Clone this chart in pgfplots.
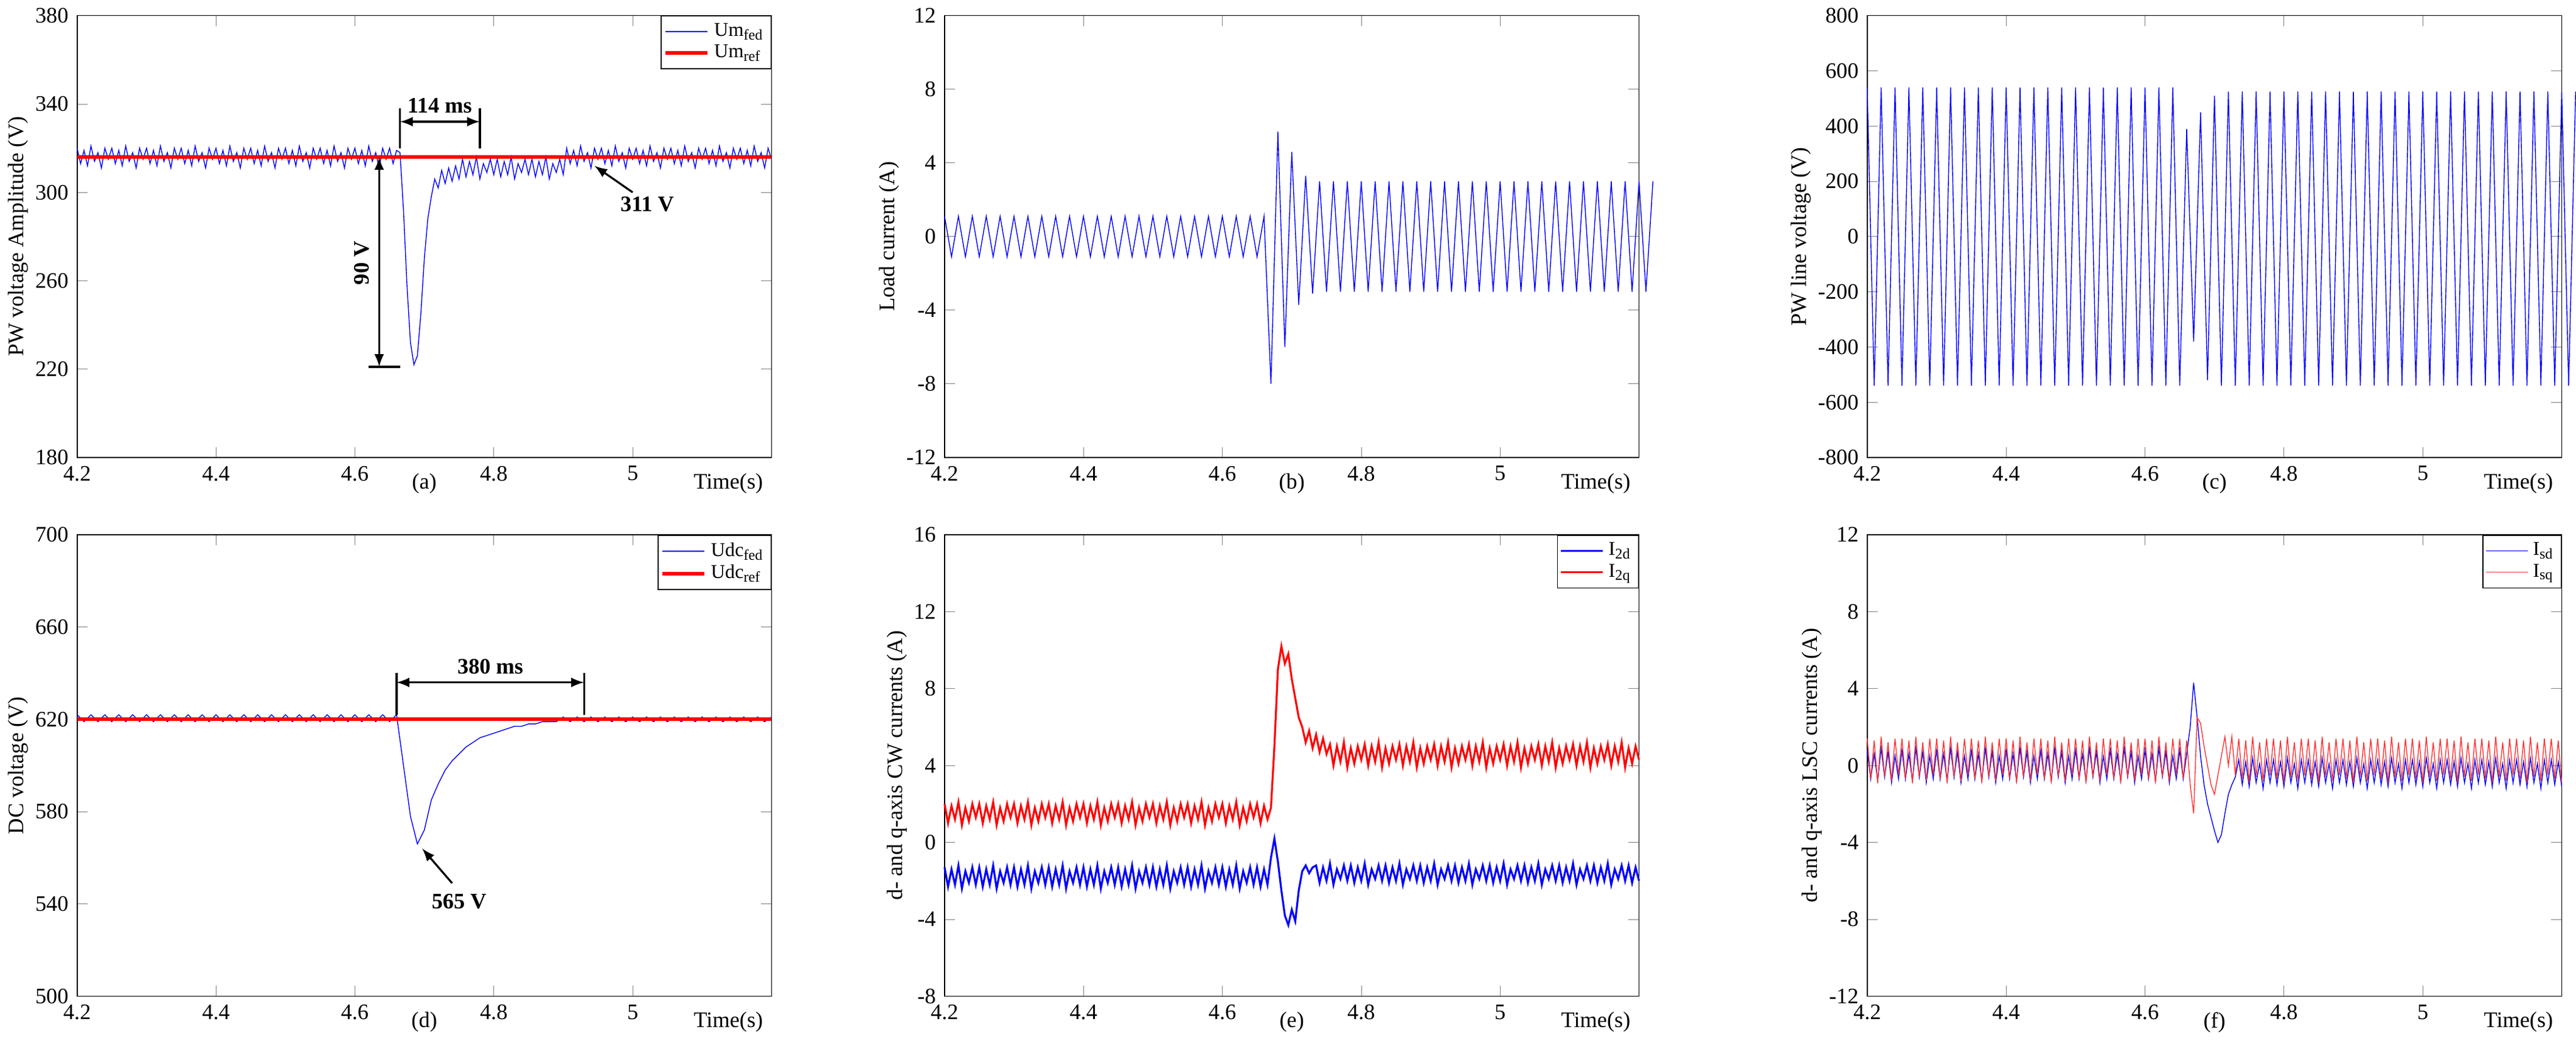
\documentclass[border=0pt]{standalone}
\usepackage{pgfplots}
\pgfplotsset{compat=1.18}
\usepackage{fontspec}
\setmainfont{Liberation Serif}
\pgfplotsset{
  P/.style={scale only axis, width=283pt, height=180pt, anchor=north west, clip=false,
    xmin=4.2, xmax=5.2, xtick={4.2,4.4,4.6,4.8,5}, xticklabels={4.2,4.4,4.6,4.8,5},
    font=\fontsize{9}{10}\selectfont, /pgf/number format/assume math mode=true,
    tick align=inside, ylabel shift=-4pt,
    legend style={font=\fontsize{8}{9}\selectfont, at={(1,1)}, anchor=north east, inner sep=1pt, row sep=-2pt},
    legend cell align=left},
  TL/.style={table/row sep=\\, table/header=false, table/y index=0},
}
\begin{document}
\begin{tikzpicture}
% (a)
\begin{axis}[P, at={(42.5pt,-11.5pt)}, ymin=180, ymax=380, ytick={180,220,...,380}, ylabel={PW voltage Amplitude (V)}]
\addplot[blue, line width=0.35pt] table[TL, x expr={4.2+0.005*\coordindex}] {320\\313\\319\\312\\321\\314\\318\\311\\320\\315\\320\\313\\319\\312\\321\\314\\318\\311\\320\\315\\320\\313\\319\\312\\321\\314\\318\\311\\320\\315\\320\\313\\319\\312\\321\\314\\318\\311\\320\\315\\320\\313\\319\\312\\321\\314\\318\\311\\320\\315\\320\\313\\319\\312\\321\\314\\318\\311\\320\\315\\320\\313\\319\\312\\321\\314\\318\\311\\320\\315\\320\\313\\319\\312\\321\\314\\318\\311\\320\\315\\320\\313\\319\\312\\321\\314\\318\\311\\320\\315\\320\\313\\319\\318\\292\\258\\232\\222\\226\\245\\270\\288\\298\\306\\302\\310\\304\\311\\305\\312\\306\\315\\307\\314\\308\\316\\306\\313\\309\\315\\308\\315\\307\\314\\308\\316\\306\\313\\309\\315\\308\\315\\307\\314\\308\\316\\306\\313\\309\\315\\308\\320\\313\\319\\312\\321\\314\\318\\311\\320\\315\\320\\313\\319\\312\\321\\314\\318\\311\\320\\315\\320\\313\\319\\312\\321\\314\\318\\311\\320\\315\\320\\313\\319\\312\\321\\314\\318\\311\\320\\315\\320\\313\\319\\312\\321\\314\\318\\311\\320\\315\\320\\313\\319\\312\\321\\314\\318\\311\\320\\315\\};
\addlegendentry{Um$_{\mathrm{fed}}$}
\addplot[red, line width=1.5pt] coordinates {(4.2,316) (5.2,316)};
\addlegendentry{Um$_{\mathrm{ref}}$}
\draw[<->, >=latex, thick] (axis cs:4.665,332) -- (axis cs:4.78,332);
\draw[thick] (axis cs:4.665,320) -- (axis cs:4.665,338) (axis cs:4.78,320) -- (axis cs:4.78,338);
\node[font=\bfseries\fontsize{9}{10}\selectfont, above] at (axis cs:4.722,332) {114 ms};
\draw[<->, >=latex, thick] (axis cs:4.635,316) -- (axis cs:4.635,221);
\draw[thick] (axis cs:4.62,221) -- (axis cs:4.665,221);
\node[font=\bfseries\fontsize{9}{10}\selectfont, rotate=90] at (axis cs:4.61,268) {90 V};
\draw[->, >=latex, thick] (axis cs:5.0,300) -- (axis cs:4.945,312);
\node[font=\bfseries\fontsize{9}{10}\selectfont, anchor=north west] at (axis cs:4.97,302) {311 V};
\node[anchor=north east, font=\fontsize{9}{10}\selectfont] at (rel axis cs:1,0) [yshift=-3pt] {Time(s)};
\node[anchor=north, font=\fontsize{9}{10}\selectfont] at (rel axis cs:0.5,0) [yshift=-3pt] {(a)};
\end{axis}
% (b)
\begin{axis}[P, at={(396pt,-11.5pt)}, ymin=-12, ymax=12, ytick={-12,-8,...,12}, ylabel={Load current (A)}]
\addplot[blue, line width=0.35pt] table[TL, x expr={4.2+0.01*\coordindex}] {1.1\\-1.1\\1.1\\-1.1\\1.1\\-1.1\\1.1\\-1.1\\1.1\\-1.1\\1.1\\-1.1\\1.1\\-1.1\\1.1\\-1.1\\1.1\\-1.1\\1.1\\-1.1\\1.1\\-1.1\\1.1\\-1.1\\1.1\\-1.1\\1.1\\-1.1\\1.1\\-1.1\\1.1\\-1.1\\1.1\\-1.1\\1.1\\-1.1\\1.1\\-1.1\\1.1\\-1.1\\1.1\\-1.1\\1.1\\-1.1\\1.1\\-1.1\\1.1\\-8\\5.7\\-6\\4.6\\-3.7\\3.3\\-3.1\\3\\-3\\3\\-3\\3\\-3\\3\\-3\\3\\-3\\3\\-3\\3\\-3\\3\\-3\\3\\-3\\3\\-3\\3\\-3\\3\\-3\\3\\-3\\3\\-3\\3\\-3\\3\\-3\\3\\-3\\3\\-3\\3\\-3\\3\\-3\\3\\-3\\3\\-3\\3\\-3\\3\\-3\\3\\};
\node[anchor=north east, font=\fontsize{9}{10}\selectfont] at (rel axis cs:1,0) [yshift=-3pt] {Time(s)};
\node[anchor=north, font=\fontsize{9}{10}\selectfont] at (rel axis cs:0.5,0) [yshift=-3pt] {(b)};
\end{axis}
% (c)
\begin{axis}[P, at={(772pt,-11.5pt)}, ymin=-800, ymax=800, ytick={-800,-600,...,800}, ylabel={PW line voltage (V)}]
\addplot[blue, line width=0.35pt] table[TL, x expr={4.2+0.01*\coordindex}] {540\\-540\\540\\-540\\540\\-540\\540\\-540\\540\\-540\\540\\-540\\540\\-540\\540\\-540\\540\\-540\\540\\-540\\540\\-540\\540\\-540\\540\\-540\\540\\-540\\540\\-540\\540\\-540\\540\\-540\\540\\-540\\540\\-540\\540\\-540\\540\\-540\\540\\-540\\540\\-540\\390\\-380\\450\\-520\\510\\-540\\525\\-540\\525\\-540\\525\\-540\\525\\-540\\525\\-540\\525\\-540\\525\\-540\\525\\-540\\525\\-540\\525\\-540\\525\\-540\\525\\-540\\525\\-540\\525\\-540\\525\\-540\\525\\-540\\525\\-540\\525\\-540\\525\\-540\\525\\-540\\525\\-540\\525\\-540\\525\\-540\\525\\-540\\525\\-540\\525\\};
\node[anchor=north east, font=\fontsize{9}{10}\selectfont] at (rel axis cs:1,0) [yshift=-3pt] {Time(s)};
\node[anchor=north, font=\fontsize{9}{10}\selectfont] at (rel axis cs:0.5,0) [yshift=-3pt] {(c)};
\end{axis}
% (d)
\begin{axis}[P, at={(42.5pt,-223pt)}, height=188pt, ymin=500, ymax=700, ytick={500,540,...,700}, ylabel={DC voltage (V)}]
\addplot[blue, line width=0.35pt] table[TL, x expr={4.2+0.01*\coordindex}] {622\\619\\622\\619\\622\\619\\622\\619\\622\\619\\622\\619\\622\\619\\622\\619\\622\\619\\622\\619\\622\\619\\622\\619\\622\\619\\622\\619\\622\\619\\622\\619\\622\\619\\622\\619\\622\\619\\622\\619\\622\\619\\622\\619\\622\\619\\622\\600\\578\\566\\572\\585\\592\\598\\602\\605\\608\\610\\612\\613\\614\\615\\616\\617\\617\\618\\618\\619\\619\\619\\621\\619\\621\\619\\621\\619\\621\\619\\621\\619\\621\\619\\621\\619\\621\\619\\621\\619\\621\\619\\621\\619\\621\\619\\621\\619\\621\\619\\621\\619\\621\\};
\addlegendentry{Udc$_{\mathrm{fed}}$}
\addplot[red, line width=1.5pt] coordinates {(4.2,620) (5.2,620)};
\addlegendentry{Udc$_{\mathrm{ref}}$}
\draw[<->, >=latex, thick] (axis cs:4.66,636) -- (axis cs:4.93,636);
\draw[thick] (axis cs:4.66,622) -- (axis cs:4.66,640) (axis cs:4.93,622) -- (axis cs:4.93,640);
\node[font=\bfseries\fontsize{9}{10}\selectfont, above] at (axis cs:4.795,636) {380 ms};
\draw[->, >=latex, thick] (axis cs:4.74,549) -- (axis cs:4.697,564);
\node[font=\bfseries\fontsize{9}{10}\selectfont, anchor=north] at (axis cs:4.75,548) {565 V};
\node[anchor=north east, font=\fontsize{9}{10}\selectfont] at (rel axis cs:1,0) [yshift=-3pt] {Time(s)};
\node[anchor=north, font=\fontsize{9}{10}\selectfont] at (rel axis cs:0.5,0) [yshift=-3pt] {(d)};
\end{axis}
% (e)
\begin{axis}[P, at={(396pt,-223pt)}, height=188pt, ymin=-8, ymax=16, ytick={-8,-4,...,16}, ylabel={d- and q-axis CW currents (A)}]
\addplot[blue, line width=0.8pt] table[TL, x expr={4.2+0.005*\coordindex}] {-1.3\\-2.3\\-1.4\\-2.2\\-1.2\\-2.4\\-1.5\\-2.1\\-1.3\\-2.2\\-1.3\\-2.3\\-1.4\\-2.2\\-1.2\\-2.4\\-1.5\\-2.1\\-1.3\\-2.2\\-1.3\\-2.3\\-1.4\\-2.2\\-1.2\\-2.4\\-1.5\\-2.1\\-1.3\\-2.2\\-1.3\\-2.3\\-1.4\\-2.2\\-1.2\\-2.4\\-1.5\\-2.1\\-1.3\\-2.2\\-1.3\\-2.3\\-1.4\\-2.2\\-1.2\\-2.4\\-1.5\\-2.1\\-1.3\\-2.2\\-1.3\\-2.3\\-1.4\\-2.2\\-1.2\\-2.4\\-1.5\\-2.1\\-1.3\\-2.2\\-1.3\\-2.3\\-1.4\\-2.2\\-1.2\\-2.4\\-1.5\\-2.1\\-1.3\\-2.2\\-1.3\\-2.3\\-1.4\\-2.2\\-1.2\\-2.4\\-1.5\\-2.1\\-1.3\\-2.2\\-1.3\\-2.3\\-1.4\\-2.2\\-1.2\\-2.4\\-1.5\\-2.1\\-1.3\\-2.2\\-1.3\\-2.3\\-1.4\\-2.2\\-0.8\\0.2\\-1\\-2.5\\-3.8\\-4.3\\-3.5\\-4.1\\-2.5\\-1.5\\-1.2\\-1.6\\-1.3\\-1.2\\-2.1\\-1.3\\-2.0\\-1.1\\-2.2\\-1.4\\-1.9\\-1.2\\-2.0\\-1.2\\-2.1\\-1.3\\-2.0\\-1.1\\-2.2\\-1.4\\-1.9\\-1.2\\-2.0\\-1.2\\-2.1\\-1.3\\-2.0\\-1.1\\-2.2\\-1.4\\-1.9\\-1.2\\-2.0\\-1.2\\-2.1\\-1.3\\-2.0\\-1.1\\-2.2\\-1.4\\-1.9\\-1.2\\-2.0\\-1.2\\-2.1\\-1.3\\-2.0\\-1.1\\-2.2\\-1.4\\-1.9\\-1.2\\-2.0\\-1.2\\-2.1\\-1.3\\-2.0\\-1.1\\-2.2\\-1.4\\-1.9\\-1.2\\-2.0\\-1.2\\-2.1\\-1.3\\-2.0\\-1.1\\-2.2\\-1.4\\-1.9\\-1.2\\-2.0\\-1.2\\-2.1\\-1.3\\-2.0\\-1.1\\-2.2\\-1.4\\-1.9\\-1.2\\-2.0\\-1.2\\-2.1\\-1.3\\-2.0\\-1.1\\-2.2\\-1.4\\-1.9\\-1.2\\-2.0\\-1.2\\-2.1\\-1.3\\-2.0\\};
\addlegendentry{I$_{\mathrm{2d}}$}
\addplot[red, line width=0.8pt] table[TL, x expr={4.2+0.005*\coordindex}] {2.0\\1.0\\1.9\\1.2\\2.1\\0.9\\1.8\\1.1\\2.0\\1.3\\2.0\\1.0\\1.9\\1.2\\2.1\\0.9\\1.8\\1.1\\2.0\\1.3\\2.0\\1.0\\1.9\\1.2\\2.1\\0.9\\1.8\\1.1\\2.0\\1.3\\2.0\\1.0\\1.9\\1.2\\2.1\\0.9\\1.8\\1.1\\2.0\\1.3\\2.0\\1.0\\1.9\\1.2\\2.1\\0.9\\1.8\\1.1\\2.0\\1.3\\2.0\\1.0\\1.9\\1.2\\2.1\\0.9\\1.8\\1.1\\2.0\\1.3\\2.0\\1.0\\1.9\\1.2\\2.1\\0.9\\1.8\\1.1\\2.0\\1.3\\2.0\\1.0\\1.9\\1.2\\2.1\\0.9\\1.8\\1.1\\2.0\\1.3\\2.0\\1.0\\1.9\\1.2\\2.1\\0.9\\1.8\\1.1\\2.0\\1.3\\2.0\\1.0\\1.9\\1.2\\1.8\\5\\9\\10.2\\9.3\\9.8\\8.5\\7.5\\6.5\\6\\5.2\\5.8\\4.9\\5.6\\4.7\\5.4\\4.6\\5.1\\4.0\\5.0\\4.2\\5.2\\3.9\\4.9\\4.1\\5.0\\4.3\\5.1\\4.0\\5.0\\4.2\\5.2\\3.9\\4.9\\4.1\\5.0\\4.3\\5.1\\4.0\\5.0\\4.2\\5.2\\3.9\\4.9\\4.1\\5.0\\4.3\\5.1\\4.0\\5.0\\4.2\\5.2\\3.9\\4.9\\4.1\\5.0\\4.3\\5.1\\4.0\\5.0\\4.2\\5.2\\3.9\\4.9\\4.1\\5.0\\4.3\\5.1\\4.0\\5.0\\4.2\\5.2\\3.9\\4.9\\4.1\\5.0\\4.3\\5.1\\4.0\\5.0\\4.2\\5.2\\3.9\\4.9\\4.1\\5.0\\4.3\\5.1\\4.0\\5.0\\4.2\\5.2\\3.9\\4.9\\4.1\\5.0\\4.3\\5.1\\4.0\\5.0\\4.2\\5.2\\3.9\\4.9\\4.1\\5.0\\4.3\\};
\addlegendentry{I$_{\mathrm{2q}}$}
\node[anchor=north east, font=\fontsize{9}{10}\selectfont] at (rel axis cs:1,0) [yshift=-3pt] {Time(s)};
\node[anchor=north, font=\fontsize{9}{10}\selectfont] at (rel axis cs:0.5,0) [yshift=-3pt] {(e)};
\end{axis}
% (f)
\begin{axis}[P, at={(772pt,-223pt)}, height=188pt, ymin=-12, ymax=12, ytick={-12,-8,...,12}, ylabel={d- and q-axis LSC currents (A)}]
\addplot[blue, line width=0.35pt] table[TL, x expr={4.2+0.005*\coordindex}] {0.8\\-0.7\\0.6\\-0.8\\0.9\\-0.6\\0.7\\-0.9\\0.5\\-0.7\\0.8\\-0.7\\0.6\\-0.8\\0.9\\-0.6\\0.7\\-0.9\\0.5\\-0.7\\0.8\\-0.7\\0.6\\-0.8\\0.9\\-0.6\\0.7\\-0.9\\0.5\\-0.7\\0.8\\-0.7\\0.6\\-0.8\\0.9\\-0.6\\0.7\\-0.9\\0.5\\-0.7\\0.8\\-0.7\\0.6\\-0.8\\0.9\\-0.6\\0.7\\-0.9\\0.5\\-0.7\\0.8\\-0.7\\0.6\\-0.8\\0.9\\-0.6\\0.7\\-0.9\\0.5\\-0.7\\0.8\\-0.7\\0.6\\-0.8\\0.9\\-0.6\\0.7\\-0.9\\0.5\\-0.7\\0.8\\-0.7\\0.6\\-0.8\\0.9\\-0.6\\0.7\\-0.9\\0.5\\-0.7\\0.8\\-0.7\\0.6\\-0.8\\0.9\\-0.6\\0.7\\-0.9\\0.5\\-0.7\\0.8\\-0.7\\0.6\\2\\4.3\\2.5\\0.5\\-1\\-2\\-2.7\\-3.4\\-4.0\\-3.6\\-2.5\\-1.5\\-1\\-0.6\\0.3\\-1.0\\0.2\\-1.1\\0.4\\-0.9\\0.1\\-1.2\\0.3\\-0.9\\0.3\\-1.0\\0.2\\-1.1\\0.4\\-0.9\\0.1\\-1.2\\0.3\\-0.9\\0.3\\-1.0\\0.2\\-1.1\\0.4\\-0.9\\0.1\\-1.2\\0.3\\-0.9\\0.3\\-1.0\\0.2\\-1.1\\0.4\\-0.9\\0.1\\-1.2\\0.3\\-0.9\\0.3\\-1.0\\0.2\\-1.1\\0.4\\-0.9\\0.1\\-1.2\\0.3\\-0.9\\0.3\\-1.0\\0.2\\-1.1\\0.4\\-0.9\\0.1\\-1.2\\0.3\\-0.9\\0.3\\-1.0\\0.2\\-1.1\\0.4\\-0.9\\0.1\\-1.2\\0.3\\-0.9\\0.3\\-1.0\\0.2\\-1.1\\0.4\\-0.9\\0.1\\-1.2\\0.3\\-0.9\\0.3\\-1.0\\0.2\\-1.1\\0.4\\-0.9\\0.1\\-1.2\\0.3\\-0.9\\0.3\\-1.0\\0.2\\-1.1\\};
\addlegendentry{I$_{\mathrm{sd}}$}
\addplot[red!80, line width=0.35pt] table[TL, x expr={4.2+0.005*\coordindex}] {1.4\\-0.7\\1.3\\-0.9\\1.5\\-0.6\\1.2\\-0.8\\1.4\\-0.5\\1.4\\-0.7\\1.3\\-0.9\\1.5\\-0.6\\1.2\\-0.8\\1.4\\-0.5\\1.4\\-0.7\\1.3\\-0.9\\1.5\\-0.6\\1.2\\-0.8\\1.4\\-0.5\\1.4\\-0.7\\1.3\\-0.9\\1.5\\-0.6\\1.2\\-0.8\\1.4\\-0.5\\1.4\\-0.7\\1.3\\-0.9\\1.5\\-0.6\\1.2\\-0.8\\1.4\\-0.5\\1.4\\-0.7\\1.3\\-0.9\\1.5\\-0.6\\1.2\\-0.8\\1.4\\-0.5\\1.4\\-0.7\\1.3\\-0.9\\1.5\\-0.6\\1.2\\-0.8\\1.4\\-0.5\\1.4\\-0.7\\1.3\\-0.9\\1.5\\-0.6\\1.2\\-0.8\\1.4\\-0.5\\1.4\\-0.7\\1.3\\-0.9\\1.5\\-0.6\\1.2\\-0.8\\1.4\\-0.5\\1.4\\-0.7\\1.3\\-1\\-2.5\\2.5\\2.2\\1\\0\\-1\\-1.5\\-0.5\\0.5\\1.5\\0\\1.5\\-0.5\\1.4\\-0.7\\1.3\\-0.9\\1.5\\-0.6\\1.2\\-0.8\\1.4\\-0.5\\1.4\\-0.7\\1.3\\-0.9\\1.5\\-0.6\\1.2\\-0.8\\1.4\\-0.5\\1.4\\-0.7\\1.3\\-0.9\\1.5\\-0.6\\1.2\\-0.8\\1.4\\-0.5\\1.4\\-0.7\\1.3\\-0.9\\1.5\\-0.6\\1.2\\-0.8\\1.4\\-0.5\\1.4\\-0.7\\1.3\\-0.9\\1.5\\-0.6\\1.2\\-0.8\\1.4\\-0.5\\1.4\\-0.7\\1.3\\-0.9\\1.5\\-0.6\\1.2\\-0.8\\1.4\\-0.5\\1.4\\-0.7\\1.3\\-0.9\\1.5\\-0.6\\1.2\\-0.8\\1.4\\-0.5\\1.4\\-0.7\\1.3\\-0.9\\1.5\\-0.6\\1.2\\-0.8\\1.4\\-0.5\\1.4\\-0.7\\1.3\\-0.9\\1.5\\-0.6\\1.2\\-0.8\\1.4\\-0.5\\1.4\\-0.7\\1.3\\-0.9\\};
\addlegendentry{I$_{\mathrm{sq}}$}
\node[anchor=north east, font=\fontsize{9}{10}\selectfont] at (rel axis cs:1,0) [yshift=-3pt] {Time(s)};
\node[anchor=north, font=\fontsize{9}{10}\selectfont] at (rel axis cs:0.5,0) [yshift=-3pt] {(f)};
\end{axis}
\end{tikzpicture}
\end{document}
